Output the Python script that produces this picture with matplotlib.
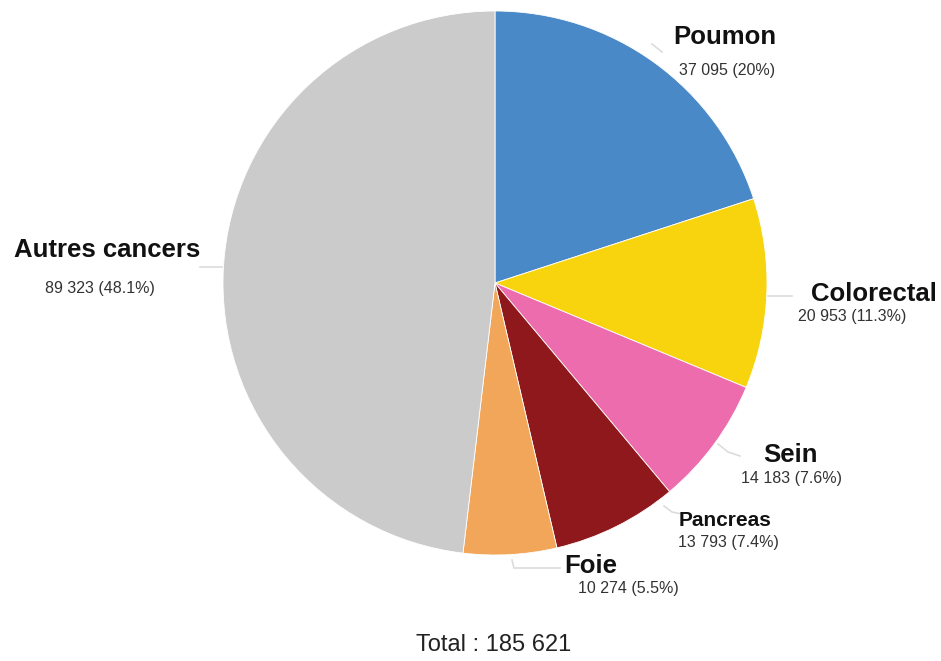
import matplotlib
matplotlib.use("Agg")
import matplotlib.pyplot as plt

plt.rcParams['font.family'] = ['Liberation Sans', 'DejaVu Sans']

# données
categories = ["Poumon", "Colorectal", "Sein", "Pancreas", "Foie", "Autres cancers"]
cas = [37095, 20953, 14183, 13793, 10274, 89323]
couleurs = ["#4a89c7", "#f8d40f", "#ec6cad", "#8e181b", "#f2a65a", "#cbcbcb"]

total = sum(cas)

fig = plt.figure(figsize=(9.41, 6.61), dpi=100)
ax = fig.add_axes([0, 0, 1, 1])

# camembert, centre et rayon en pixels (axe y inversé : sens horaire à l'écran)
cx, cy, r = 495, 283, 272
ax.pie(cas, colors=couleurs, startangle=-90, counterclock=True,
       center=(cx, cy), radius=r, frame=True,
       wedgeprops=dict(edgecolor='white', linewidth=0.6))
ax.set_xlim(0, 941)
ax.set_ylim(661, 0)
ax.set_aspect('equal')
ax.axis('off')

# position des étiquettes (nom, valeur) et taille du nom
pos_nom = [(725, 37), (874, 294), (790, 455), (725, 520), (591, 566), (107, 250)]
pos_val = [(727, 70), (852, 316), (792, 478), (728, 542), (628, 588), (100, 288)]
taille_nom = [18.5, 18.5, 18.5, 15, 18.5, 18.5]

for i, nom in enumerate(categories):
    pct = round(cas[i] / total * 100, 1)
    pct_txt = f"{pct:g}"
    val_txt = f"{cas[i]:,}".replace(",", " ") + f" ({pct_txt}%)"
    ax.text(pos_nom[i][0], pos_nom[i][1], nom, ha='center', va='center',
            fontsize=taille_nom[i], fontweight='bold', color='#111111')
    ax.text(pos_val[i][0], pos_val[i][1], val_txt, ha='center', va='center',
            fontsize=11.5, color='#333333')

# traits de rappel
lignes = [
    [(652, 44), (662, 52)],
    [(768, 296), (792, 296)],
    [(718, 444), (728, 452), (740, 456)],
    [(664, 506), (672, 512), (682, 514)],
    [(512, 560), (514, 568), (560, 568)],
    [(200, 267), (222, 267)],
]
for l in lignes:
    xs = [p[0] for p in l]
    ys = [p[1] for p in l]
    ax.plot(xs, ys, color='#dcdcdc', linewidth=1.2, zorder=0)

ax.text(494, 645, "Total : 185 621", ha='center', va='center',
        fontsize=17, color='#222222')

fig.savefig('out.png', dpi=100)
